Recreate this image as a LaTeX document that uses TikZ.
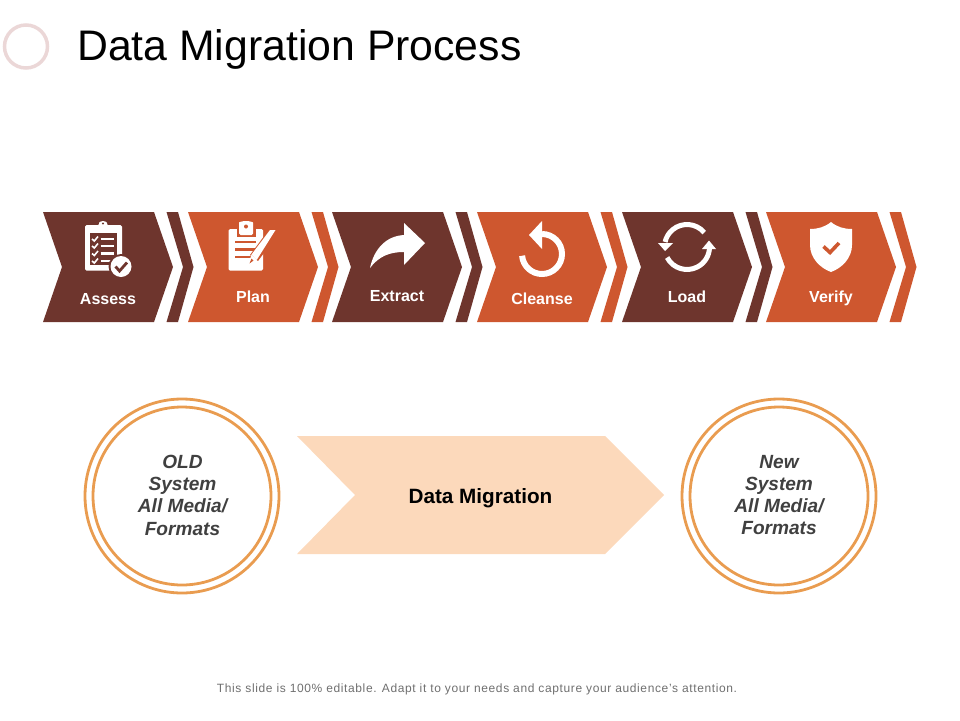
\documentclass[tikz,border=0pt]{standalone}
\usepackage{fontspec}
\setmainfont{Liberation Sans}
\usetikzlibrary{positioning}
\definecolor{brownfill}{HTML}{6E352D}
\definecolor{orangefill}{HTML}{CE572F}
\definecolor{peachfill}{HTML}{FCD9BB}
\definecolor{ringline}{HTML}{E99C50}
\definecolor{markring}{HTML}{EBD7D7}
\definecolor{footgray}{HTML}{6F6F6F}
\definecolor{circletext}{HTML}{404040}

\begin{document}
\begin{tikzpicture}[x=1pt, y=-1pt,
    steplabel/.style={anchor=base, text=white, font=\fontsize{16}{18}\selectfont\bfseries, inner sep=0pt},
    circlelabel/.style={align=center, font=\fontsize{19.1}{22.3}\selectfont\bfseries\itshape, text=circletext, inner sep=0pt},
    icon/.style={fill=white, draw=none},
    iconline/.style={draw=white, line width=#1, fill=none}]
  \useasboundingbox (0, 0) rectangle (960, 720);

  \draw[markring, line width=3.5pt] (26, 46.5) circle (21.5);
  \node[anchor=base west, inner sep=0pt, font=\fontsize{42.75}{44}\selectfont] (title) at (77, 60.5) {Data Migration Process};

  \foreach \x/\col in {43/brownfill, 188/orangefill, 332/brownfill, 477/orangefill, 622/brownfill, 766/orangefill} {
    \fill[\col] (\x, 212) -- (\x+111, 212) -- (\x+130, 267) -- (\x+111, 322) -- (\x, 322) -- (\x+19, 267) -- cycle;
    \fill[\col] (\x+123.5, 212) -- (\x+135, 212) -- (\x+150.5, 267) -- (\x+135, 322) -- (\x+123.5, 322) -- (\x+140, 267) -- cycle;
  }

  \node[steplabel] (assess) at (108, 304.5) {Assess};
  \node[steplabel] (plan) at (253, 302.5) {Plan};
  \node[steplabel] (extract) at (397, 301.5) {Extract};
  \node[steplabel] (cleanse) at (542, 304.5) {Cleanse};
  \node[steplabel] (load) at (687, 302.5) {Load};
  \node[steplabel] (verify) at (831, 302.5) {Verify};

  % assess
  \fill[icon, rounded corners=1.5pt] (85, 225) rectangle (122, 270.5);
  \fill[brownfill] (89.5, 233) rectangle (117, 265);
  \fill[icon, rounded corners=1pt] (96, 231) -- (96, 225) -- (99, 225) -- (99, 224) arc (180:360:4 and 3) -- (107, 225) -- (110, 225) -- (110, 231) -- cycle;
  \fill[brownfill] (103, 223.5) circle (1.2);
  \foreach \y in {239, 246, 253.5, 261} {
    \draw[white, line width=1.6pt] (92, \y) -- (94.3, \y+2) -- (98, \y-2.5);
    \draw[white, line width=2.2pt] (100.5, \y) -- (114, \y);
  }
  \fill[brownfill] (121, 266.5) circle (12.5);
  \fill[icon] (121, 266.5) circle (10.5);
  \draw[brownfill, line width=2.8pt] (115.5, 266.5) -- (119.5, 271) -- (127, 262.5);

  % plan
  \fill[icon, rounded corners=1.5pt] (228.5, 229) rectangle (263, 270.5);
  \fill[orangefill] (236.5, 229) rectangle (255.5, 237);
  \fill[icon, rounded corners=1.5pt] (239, 235) -- (239, 224) arc (180:360:7 and 3) -- (253, 235) -- cycle;
  \fill[orangefill] (246, 226.5) circle (2);
  \draw[orangefill, line width=2.6pt] (235, 242) -- (256, 242);
  \draw[orangefill, line width=2.6pt] (235, 249.5) -- (256, 249.5);
  \draw[orangefill, line width=2.6pt] (235, 257) -- (252, 257);
  \draw[orangefill, line width=10pt] (273, 232.5) -- (254, 258);
  \fill[icon] (275.5, 230) -- (270, 230) -- (251.5, 254.5) -- (257, 259.5) -- cycle;
  \fill[icon] (251.5, 254.5) -- (257, 259.5) -- (248, 265.5) -- cycle;
  \fill[orangefill] (251.5, 258.5) -- (253.5, 260.5) -- (249.5, 263.5) -- cycle;

  % extract
  \fill[icon] (425, 243) -- (404, 223) -- (404, 235) .. controls (386, 236) and (374, 249) .. (370, 268) .. controls (379, 256) and (390, 252) .. (404, 252) -- (404, 265) -- cycle;

  % cleanse
  \draw[iconline=6pt] (542, 234) arc (-90:175:20);
  \fill[icon] (529, 235) -- (542, 221) -- (542, 249) -- cycle;

  % load
  \draw[iconline=5pt] (687, 247) ++(-40:22.5) arc (-40:-167:22.5);
  \draw[iconline=5pt] (687, 247) ++(152:22.5) arc (152:2:22.5);
  \fill[icon] (658, 243) -- (673, 243) -- (665, 251) -- cycle;
  \fill[icon] (702, 249) -- (716, 249) -- (709, 240.5) -- cycle;

  % verify
  \fill[icon] (831, 222) .. controls (825, 227) and (818, 229) .. (810, 229) -- (810, 245) .. controls (810, 258) and (820, 268) .. (831, 272) .. controls (842, 268) and (852, 258) .. (852, 245) -- (852, 229) .. controls (844, 229) and (837, 227) .. (831, 222) -- cycle;
  \draw[orangefill, line width=3.6pt] (823.5, 246.5) -- (830, 252.5) -- (839, 243);

  \draw[ringline, line width=2.8pt] (182, 496) circle (97);
  \draw[ringline, line width=2.8pt] (182, 496) circle (89);
  \draw[ringline, line width=2.8pt] (779, 496) circle (97);
  \draw[ringline, line width=2.8pt] (779, 496) circle (89);

  \fill[peachfill] (297, 436) -- (605, 436) -- (664, 495) -- (605, 554) -- (297, 554) -- (355, 495) -- cycle;

  \node[circlelabel] (oldsystem) at (182.5, 495) {OLD\\System\\All Media/\\Formats};
  \node[circlelabel] (newsystem) at (779, 495) {New\\System\\All Media/\\Formats};
  \node[anchor=base, inner sep=0pt, font=\fontsize{20.7}{22}\selectfont\bfseries] (migration) at (480.5, 503) {Data Migration};

  \node[anchor=base, inner sep=0pt, text=footgray, font=\fontsize{12}{14}\selectfont\addfontfeature{LetterSpace=5.2}] (footer) at (477, 692) {This slide is 100\% editable. Adapt it to your needs and capture your audience's attention.};
\end{tikzpicture}
\end{document}
